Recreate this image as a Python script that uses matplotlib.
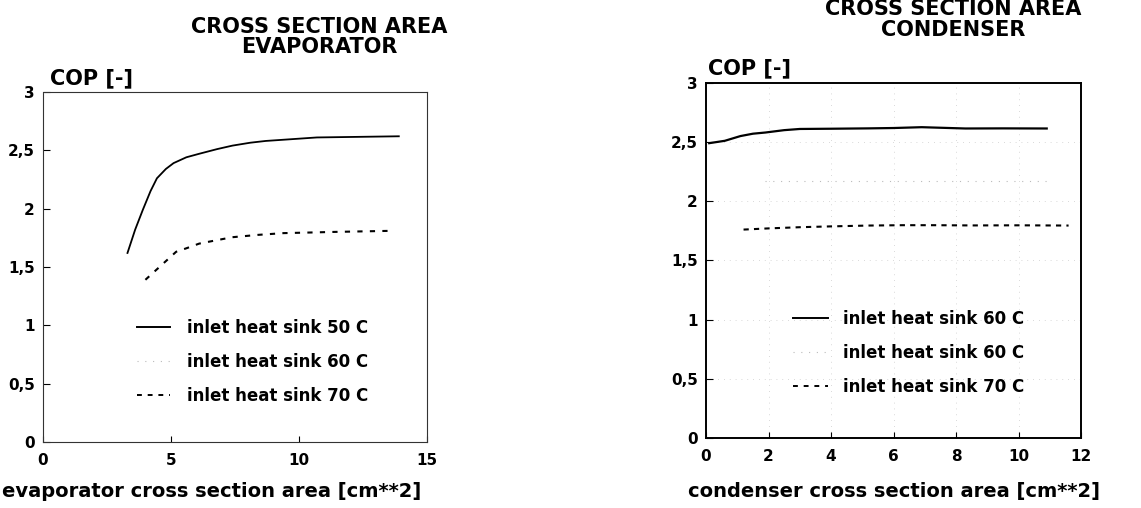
import matplotlib
matplotlib.use("Agg")
import matplotlib.pyplot as plt
from matplotlib.lines import Line2D
from matplotlib.ticker import FuncFormatter

plt.rcParams['font.family'] = ['DejaVu Sans']
plt.rcParams['font.weight'] = 'bold'
plt.rcParams['axes.labelweight'] = 'bold'

# evaporator panel
evap_x_50 = [3.3, 3.6, 3.9, 4.2, 4.45, 4.8, 5.1, 5.6, 6.1, 6.8, 7.4, 8.1, 8.7, 9.7, 10.7, 12.3, 13.9]
evap_y_50 = [1.62, 1.82, 1.99, 2.15, 2.26, 2.34, 2.39, 2.44, 2.47, 2.51, 2.54, 2.565, 2.58, 2.595, 2.61, 2.615, 2.62]
evap_x_70 = [4.0, 4.3, 4.6, 4.9, 5.2, 5.6, 6.1, 6.8, 7.4, 8.4, 9.4, 10.4, 11.3, 12.5, 13.7]
evap_y_70 = [1.39, 1.45, 1.51, 1.57, 1.63, 1.66, 1.70, 1.73, 1.755, 1.775, 1.79, 1.795, 1.80, 1.805, 1.81]

# condenser panel
cond_x_60 = [0.1, 0.6, 1.1, 1.5, 1.9, 2.5, 3.0, 4.0, 5.2, 6.0, 6.9, 8.3, 9.5, 10.9]
cond_y_60 = [2.49, 2.51, 2.55, 2.57, 2.58, 2.60, 2.61, 2.612, 2.615, 2.618, 2.625, 2.614, 2.615, 2.614]
cond_x_60b = [1.9, 4.0, 6.0, 8.0, 10.0, 11.0]
cond_y_60b = [2.17, 2.17, 2.17, 2.17, 2.17, 2.17]
cond_x_70 = [1.2, 2.0, 3.0, 4.0, 5.2, 6.3, 7.3, 8.5, 10.0, 11.6]
cond_y_70 = [1.76, 1.77, 1.78, 1.787, 1.794, 1.797, 1.797, 1.795, 1.796, 1.794]

evap_labels = ['inlet heat sink 50 C', 'inlet heat sink 60 C', 'inlet heat sink 70 C']
cond_labels = ['inlet heat sink 60 C', 'inlet heat sink 60 C', 'inlet heat sink 70 C']

comma = FuncFormatter(lambda v, p: ('%g' % v).replace('.', ','))

fig = plt.figure(figsize=(11.41, 5.08), dpi=100)
ax1 = fig.add_axes([0.0377, 0.130, 0.3365, 0.689])
ax2 = fig.add_axes([0.6188, 0.138, 0.3287, 0.699])


def handles():
  return [Line2D([], [], color='black', lw=1.4),
          Line2D([], [], color='#bbbbbb', lw=0.8, ls=(0, (1, 6))),
          Line2D([], [], color='black', lw=1.4, ls=(0, (2.5, 3)))]


def style(ax):
  ax.set_ylim(0, 3)
  ax.set_yticks([0, 0.5, 1, 1.5, 2, 2.5, 3])
  ax.yaxis.set_major_formatter(comma)
  ax.tick_params(axis='y', direction='in', length=5, labelsize=11, pad=6)
  ax.tick_params(axis='x', direction='in', length=4, labelsize=11, pad=8)


# left plot
ax1.plot(evap_x_50, evap_y_50, color='black', lw=1.3)
ax1.plot(evap_x_70, evap_y_70, color='black', lw=1.5, ls=(0, (2.5, 3.5)))
ax1.set_xlim(0, 15)
ax1.set_xticks([0, 5, 10, 15])
style(ax1)
for s in ax1.spines.values():
  s.set_linewidth(0.8)
  s.set_color('#333333')
ax1.spines['left'].set_linestyle((0, (4, 1)))
ax1.legend(handles(), evap_labels, loc='center left', bbox_to_anchor=(0.245, 0.229),
           frameon=False, fontsize=12, borderpad=0, borderaxespad=0,
           handlelength=2.0, handletextpad=1.0, labelspacing=0.95)
ax1.text(0.018, 1.04, 'COP [-]', transform=ax1.transAxes, fontsize=15, ha='left', va='center')
ax1.set_xlabel('evaporator cross section area [cm**2]', fontsize=14)
ax1.xaxis.set_label_coords(0.44, -0.115)
fig.text(0.280, 0.927, 'CROSS SECTION AREA\nEVAPORATOR', ha='center', va='center',
         fontsize=15, linespacing=1.05)

# right plot
ax2.grid(True, color='#cccccc', lw=0.6, ls=(0, (1, 6)))
ax2.plot(cond_x_60, cond_y_60, color='black', lw=1.6)
ax2.plot(cond_x_60b, cond_y_60b, color='#bbbbbb', lw=0.8, ls=(0, (1, 6)))
ax2.plot(cond_x_70, cond_y_70, color='black', lw=1.5, ls=(0, (2.5, 2.5)))
ax2.set_xlim(0, 12)
ax2.set_xticks(range(0, 13, 2))
style(ax2)
for s in ax2.spines.values():
  s.set_linewidth(1.4)
ax2.legend(handles(), cond_labels, loc='center left', bbox_to_anchor=(0.232, 0.239),
           frameon=False, fontsize=12, borderpad=0, borderaxespad=0,
           handlelength=2.1, handletextpad=0.9, labelspacing=0.95)
ax2.text(0.005, 1.042, 'COP [-]', transform=ax2.transAxes, fontsize=15, ha='left', va='center')
ax2.set_xlabel('condenser cross section area [cm**2]', fontsize=14)
ax2.xaxis.set_label_coords(0.5, -0.125)
fig.text(0.835, 0.961, 'CROSS SECTION AREA\nCONDENSER', ha='center', va='center',
         fontsize=15, linespacing=1.05)

fig.savefig('out.png', dpi=100)
